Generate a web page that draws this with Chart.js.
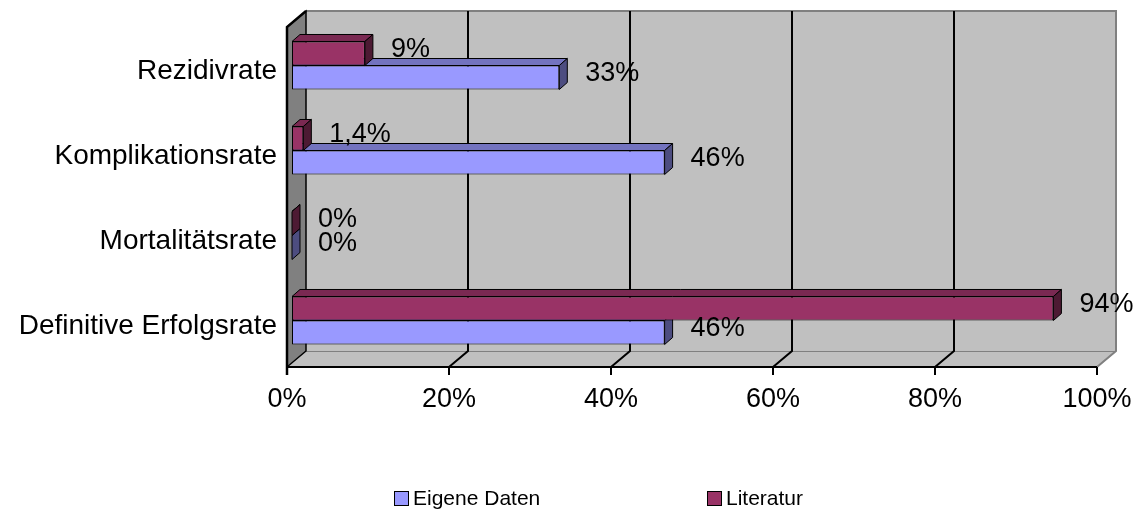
<!DOCTYPE html>
<html>
<head>
<meta charset="utf-8">
<script src="https://cdn.jsdelivr.net/npm/chart.js@4/dist/chart.umd.min.js"></script>
<style>
  html, body { margin: 0; padding: 0; background: #ffffff; }
  #wrap { width: 1139px; height: 512px; }
</style>
</head>
<body>
<div id="wrap"><canvas id="chart" width="1139" height="512"></canvas></div>
<script>
// Categories, top to bottom
const categories = ['Rezidivrate', 'Komplikationsrate', 'Mortalitätsrate', 'Definitive Erfolgsrate'];
// Values in percent
const eigeneDaten = [33, 46, 0, 46];
const literatur = [9, 1.4, 0, 94];
// Axis ticks in percent
const xTickValues = [0, 20, 40, 60, 80, 100];

const FONT = "'Liberation Sans', Arial, Helvetica, sans-serif";

// Perspective offsets relative to the plane of the bar fronts
const BACK = { dx: 14, dy: -12 };
const FRONT = { dx: -5, dy: 4 };
const BAR_DEPTH = { dx: 8, dy: -7 };

function fmtPercent(v) {
  return String(v).replace('.', ',') + '%';
}

// Side wall, floor, back wall and gridlines of the 3D frame
const framePlugin = {
  id: 'frame3d',
  beforeDatasetsDraw(chart) {
    const ctx = chart.ctx;
    const xs = chart.scales.x;
    const area = chart.chartArea;
    const L = xs.getPixelForValue(0), R = xs.getPixelForValue(100);
    const T = area.top, B = area.bottom;
    ctx.save();

    // back wall
    ctx.fillStyle = '#c0c0c0';
    ctx.fillRect(L + BACK.dx, T + BACK.dy, R - L, B - T);

    // floor
    ctx.beginPath();
    ctx.moveTo(L + FRONT.dx, B + FRONT.dy);
    ctx.lineTo(R + FRONT.dx, B + FRONT.dy);
    ctx.lineTo(R + BACK.dx, B + BACK.dy);
    ctx.lineTo(L + BACK.dx, B + BACK.dy);
    ctx.closePath();
    ctx.fillStyle = '#c0c0c0';
    ctx.fill();

    // back wall top and right edges, floor back/right edges
    ctx.strokeStyle = '#808080';
    ctx.lineWidth = 2;
    ctx.beginPath();
    ctx.moveTo(L + BACK.dx, T + BACK.dy);
    ctx.lineTo(R + BACK.dx, T + BACK.dy);
    ctx.lineTo(R + BACK.dx, B + BACK.dy);
    ctx.lineTo(R + FRONT.dx, B + FRONT.dy);
    ctx.stroke();
    ctx.lineWidth = 1;
    ctx.beginPath();
    ctx.moveTo(L + BACK.dx, B + BACK.dy + 0.5);
    ctx.lineTo(R + BACK.dx, B + BACK.dy + 0.5);
    ctx.stroke();

    // gridlines on back wall and floor
    ctx.strokeStyle = '#000000';
    ctx.lineWidth = 2;
    xTickValues.forEach(v => {
      if (v === 0 || v === 100) return;
      const px = Math.round(xs.getPixelForValue(v));
      ctx.beginPath();
      ctx.moveTo(px + BACK.dx, T + BACK.dy);
      ctx.lineTo(px + BACK.dx, B + BACK.dy);
      ctx.lineTo(px + FRONT.dx, B + FRONT.dy);
      ctx.stroke();
    });

    // left side wall
    ctx.beginPath();
    ctx.moveTo(L + FRONT.dx, T + FRONT.dy);
    ctx.lineTo(L + BACK.dx, T + BACK.dy);
    ctx.lineTo(L + BACK.dx, B + BACK.dy);
    ctx.lineTo(L + FRONT.dx, B + FRONT.dy);
    ctx.closePath();
    ctx.fillStyle = '#808080';
    ctx.fill();
    ctx.lineWidth = 1.5;
    ctx.strokeStyle = '#000000';
    ctx.stroke();
    ctx.lineWidth = 2.5;
    ctx.beginPath();
    ctx.moveTo(L + BACK.dx, T + BACK.dy);
    ctx.lineTo(L + FRONT.dx, T + FRONT.dy);
    ctx.lineTo(L + FRONT.dx, B + FRONT.dy + 8);
    ctx.stroke();

    // front axis line and tick marks
    ctx.lineWidth = 2;
    ctx.beginPath();
    ctx.moveTo(L + FRONT.dx, B + FRONT.dy);
    ctx.lineTo(R + FRONT.dx, B + FRONT.dy);
    xTickValues.forEach(v => {
      const px = Math.round(xs.getPixelForValue(v)) + FRONT.dx;
      ctx.moveTo(px, B + FRONT.dy);
      ctx.lineTo(px, B + FRONT.dy + 8);
    });
    ctx.stroke();
    ctx.restore();
  }
};

// Top and end faces of each bar, drawn right after that dataset's fronts
const barDepthPlugin = {
  id: 'barDepth',
  afterDatasetDraw(chart, args) {
    const ctx = chart.ctx;
    const ds = chart.data.datasets[args.index];
    const meta = args.meta;
    ctx.save();
    ctx.lineWidth = 1;
    ctx.strokeStyle = '#000000';
    ctx.lineJoin = 'miter';
    meta.data.forEach(el => {
      const p = el.getProps(['x', 'y', 'base', 'height'], true);
      const top = p.y - p.height / 2, bot = p.y + p.height / 2;
      const x0 = p.base, x1 = p.x;
      // top face
      ctx.beginPath();
      ctx.moveTo(x0, top);
      ctx.lineTo(x1, top);
      ctx.lineTo(x1 + BAR_DEPTH.dx, top + BAR_DEPTH.dy);
      ctx.lineTo(x0 + BAR_DEPTH.dx, top + BAR_DEPTH.dy);
      ctx.closePath();
      ctx.fillStyle = ds.topColor;
      ctx.fill();
      ctx.stroke();
      // end face
      ctx.beginPath();
      ctx.moveTo(x1, top);
      ctx.lineTo(x1, bot);
      ctx.lineTo(x1 + BAR_DEPTH.dx, bot + BAR_DEPTH.dy);
      ctx.lineTo(x1 + BAR_DEPTH.dx, top + BAR_DEPTH.dy);
      ctx.closePath();
      ctx.fillStyle = ds.sideColor;
      ctx.fill();
      ctx.stroke();
    });
    ctx.restore();
  }
};

// Value labels beside the bar ends
const valueLabelPlugin = {
  id: 'valueLabels',
  afterDatasetsDraw(chart) {
    const ctx = chart.ctx;
    ctx.save();
    ctx.font = '27px ' + FONT;
    ctx.fillStyle = '#000000';
    ctx.textAlign = 'left';
    ctx.textBaseline = 'middle';
    chart.data.datasets.forEach((ds, i) => {
      const meta = chart.getDatasetMeta(i);
      meta.data.forEach((el, j) => {
        const p = el.getProps(['x', 'y'], true);
        ctx.fillText(fmtPercent(ds.data[j]), p.x + 26, p.y - 4);
      });
    });
    ctx.restore();
  }
};

// Legend row below the axis
const legendPlugin = {
  id: 'legendRow',
  afterDraw(chart) {
    const ctx = chart.ctx;
    const order = [1, 0];
    const boxX = [394, 707];
    const y = 499;
    ctx.save();
    ctx.font = '21px ' + FONT;
    ctx.textBaseline = 'middle';
    ctx.textAlign = 'left';
    order.forEach((di, k) => {
      const ds = chart.data.datasets[di];
      ctx.fillStyle = ds.backgroundColor;
      ctx.fillRect(boxX[k] + 0.5, y - 7.5, 14, 14);
      ctx.strokeStyle = '#000000';
      ctx.lineWidth = 1;
      ctx.strokeRect(boxX[k] + 0.5, y - 7.5, 14, 14);
      ctx.fillStyle = '#000000';
      ctx.fillText(ds.label, boxX[k] + 19, y);
    });
    ctx.restore();
  }
};

new Chart(document.getElementById('chart').getContext('2d'), {
  type: 'bar',
  data: {
    labels: categories,
    datasets: [
      {
        label: 'Literatur',
        data: literatur,
        backgroundColor: '#993366',
        topColor: '#7a2952',
        sideColor: '#4d1a33',
        borderColor: '#000000',
        borderWidth: 1,
        borderSkipped: false,
        categoryPercentage: 0.565,
        barPercentage: 1
      },
      {
        label: 'Eigene Daten',
        data: eigeneDaten,
        backgroundColor: '#9999ff',
        topColor: '#7373bf',
        sideColor: '#4d4d80',
        borderColor: '#000000',
        borderWidth: 1,
        borderSkipped: false,
        categoryPercentage: 0.565,
        barPercentage: 1
      }
    ]
  },
  options: {
    indexAxis: 'y',
    responsive: false,
    animation: false,
    layout: { padding: { top: 23, right: 37, left: 0, bottom: 0 } },
    scales: {
      x: {
        min: 0,
        max: 100,
        afterBuildTicks: s => { s.ticks = xTickValues.map(v => ({ value: v })); },
        afterFit: s => { s.height = 149; s.paddingLeft = 0; s.paddingRight = 0; },
        grid: { display: false, drawTicks: false },
        border: { display: false },
        ticks: {
          callback: v => v + '%',
          labelOffset: -5,
          padding: 20,
          maxRotation: 0,
          color: '#000000',
          font: { family: FONT, size: 27 }
        }
      },
      y: {
        afterFit: s => { s.width = 292; s.paddingTop = 0; s.paddingBottom = 0; },
        grid: { display: false, drawTicks: false },
        border: { display: false },
        ticks: {
          labelOffset: 6,
          padding: 15,
          color: '#000000',
          font: { family: FONT, size: 28 }
        }
      }
    },
    plugins: {
      legend: { display: false },
      tooltip: { enabled: false }
    }
  },
  plugins: [framePlugin, barDepthPlugin, valueLabelPlugin, legendPlugin]
});
</script>
</body>
</html>
